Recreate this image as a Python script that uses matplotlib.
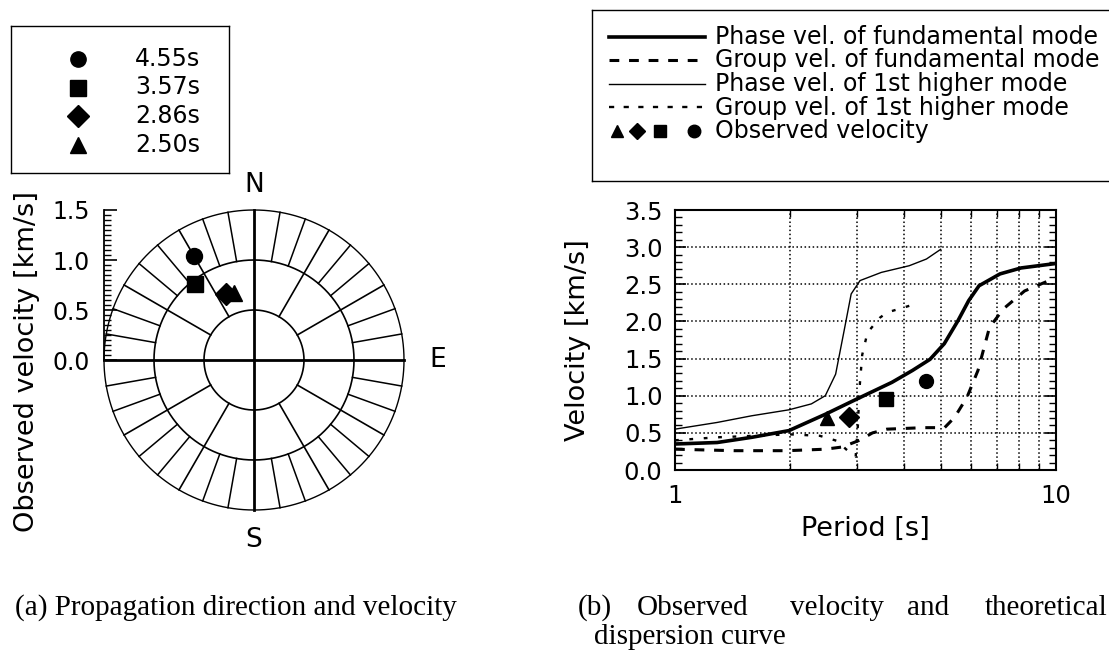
import numpy as np
import matplotlib
matplotlib.use("Agg")
import matplotlib.pyplot as plt
from matplotlib.ticker import FixedLocator, MultipleLocator, NullFormatter, NullLocator

W, H = 1109, 656

# observed velocities (same in both panels)
obs_labels = ['4.55s', '3.57s', '2.86s', '2.50s']
obs_period = [4.55, 3.57, 2.86, 2.50]
obs_velocity = [1.20, 0.96, 0.72, 0.70]
obs_azimuth = [330, 322, 337, 343]   # deg clockwise from N
obs_marker = ['o', 's', 'D', '^']

# theoretical dispersion curves
period_phase0 = [1.0, 1.29, 1.59, 1.99, 2.48, 3.0, 3.71, 4.2, 4.67, 5.09, 5.53, 5.9, 6.28, 7.13, 8.1, 10.0]
vel_phase0 = [0.35, 0.37, 0.44, 0.53, 0.75, 0.955, 1.18, 1.34, 1.49, 1.70, 2.01, 2.28, 2.48, 2.64, 2.72, 2.78]

period_group0 = [1.0, 1.43, 1.97, 2.48, 2.75, 3.05, 3.3, 3.6, 4.5, 5.1, 5.42, 5.84, 6.24, 6.69, 7.28, 8.27, 10.0]
vel_group0 = [0.28, 0.26, 0.26, 0.28, 0.31, 0.40, 0.50, 0.55, 0.57, 0.57, 0.71, 0.98, 1.34, 1.92, 2.17, 2.41, 2.59]

period_phase1 = [1.0, 1.29, 1.59, 1.99, 2.28, 2.48, 2.64, 2.78, 2.9, 3.06, 3.48, 4.12, 4.57, 4.98]
vel_phase1 = [0.55, 0.64, 0.73, 0.81, 0.89, 1.0, 1.29, 1.88, 2.37, 2.55, 2.66, 2.75, 2.84, 2.97]

period_group1 = [1.0, 1.29, 2.0, 2.4, 2.67, 2.81, 2.98, 3.02, 3.05, 3.1, 3.2, 3.45, 3.6, 4.12]
vel_group1 = [0.40, 0.44, 0.48, 0.46, 0.39, 0.28, 0.18, 0.60, 1.10, 1.55, 1.85, 2.05, 2.12, 2.21]

legend_right = ['Phase vel. of fundamental mode', 'Group vel. of fundamental mode',
                'Phase vel. of 1st higher mode', 'Group vel. of 1st higher mode',
                'Observed velocity']

rings = [0.5, 1.0, 1.5]

plt.rcParams['font.family'] = ['DejaVu Sans']
SERIF = 'Liberation Serif'


def px_axes(fig, x0, y0, x1, y1):
    # axes from pixel box (top-left origin)
    return fig.add_axes([x0 / W, 1 - y1 / H, (x1 - x0) / W, (y1 - y0) / H])


fig = plt.figure(figsize=(W / 100, H / 100), dpi=100)

# ---------------- (a) polar direction plot ----------------
ax = px_axes(fig, 104, 210, 404, 510)
ax.set_xlim(-1.5, 1.5)
ax.set_ylim(-1.5, 1.5)
for s in ['top', 'right', 'bottom']:
    ax.spines[s].set_visible(False)
ax.spines['left'].set_bounds(0, 1.5)
ax.spines['left'].set_linewidth(1.3)
ax.xaxis.set_major_locator(NullLocator())
ax.yaxis.set_major_locator(FixedLocator([0, 0.5, 1.0, 1.5]))
ax.yaxis.set_minor_locator(FixedLocator(np.arange(0, 1.51, 0.05)))
ax.set_yticklabels(['0.0', '0.5', '1.0', '1.5'])
ax.tick_params(axis='y', which='major', direction='in', length=9, width=1.2, labelsize=17, pad=10)
ax.tick_params(axis='y', which='minor', direction='in', length=5, width=1)

t = np.linspace(0, 2 * np.pi, 361)
for r in rings:
    ax.plot(r * np.cos(t), r * np.sin(t), color='black', lw=1.0 if r == 1.5 else 1.2, clip_on=False)

for az in range(0, 360, 10):
    a = np.radians(az)
    if az % 90 == 0:
        r0 = 0.0
        lw = 2.0
    elif az % 30 == 0:
        r0 = 0.5
        lw = 1.2
    else:
        r0 = 1.0
        lw = 1.1
    ax.plot([r0 * np.sin(a), 1.5 * np.sin(a)], [r0 * np.cos(a), 1.5 * np.cos(a)],
            color='black', lw=lw, clip_on=False)

for v, az, m in zip(obs_velocity, obs_azimuth, obs_marker):
    a = np.radians(az)
    ax.plot(v * np.sin(a), v * np.cos(a), marker=m, color='black', ms=11.5, ls='none', clip_on=False)

ax.text(0, 1.75, 'N', ha='center', va='center', fontsize=19)
ax.text(1.84, 0, 'E', ha='center', va='center', fontsize=19)
ax.text(0, -1.8, 'S', ha='center', va='center', fontsize=19)

fig.text(27 / W, 1 - 362 / H, 'Observed velocity [km/s]', rotation=90,
         ha='center', va='center', fontsize=19.5)

# legend box (a)
lg = px_axes(fig, 11, 26, 229, 173)
lg.set_xlim(0, 218)
lg.set_ylim(147, 0)
lg.set_xticks([])
lg.set_yticks([])
for s in lg.spines.values():
    s.set_linewidth(1.0)
for i, (lab, m) in enumerate(zip(obs_labels, obs_marker)):
    y = 33 + i * 28.5
    lg.plot(67, y, marker=m, color='black', ms=11, ls='none')
    lg.text(124, y, lab, va='center', ha='left', fontsize=17)

# ---------------- (b) dispersion curves ----------------
bx = px_axes(fig, 675, 210, 1056, 470)
bx.set_xscale('log')
bx.set_xlim(1, 10)
bx.set_ylim(0, 3.5)
bx.plot(period_phase0, vel_phase0, color='black', lw=2.6)
bx.plot(period_group0, vel_group0, color='black', lw=2.2, dashes=(3.2, 3.2))
bx.plot(period_phase1, vel_phase1, color='black', lw=1.0)
bx.plot(period_group1, vel_group1, color='black', lw=1.7, dashes=(1.6, 4.5))
for p, v, m in zip(obs_period, obs_velocity, obs_marker):
    bx.plot(p, v, marker=m, color='black', ms=10 if m != 's' else 9.5, ls='none')

bx.set_xticks([1, 10])
bx.set_xticklabels(['1', '10'])
bx.xaxis.set_minor_locator(FixedLocator([2, 3, 4, 5, 6, 7, 8, 9]))
bx.xaxis.set_minor_formatter(NullFormatter())
bx.set_yticks(np.arange(0, 3.51, 0.5))
bx.set_yticklabels(['0.0', '0.5', '1.0', '1.5', '2.0', '2.5', '3.0', '3.5'])
bx.yaxis.set_minor_locator(MultipleLocator(0.1))
bx.tick_params(which='major', direction='in', length=8, width=1.2, labelsize=17.5,
               top=True, right=True)
bx.tick_params(which='minor', direction='in', length=5, width=1, top=True, right=True)
bx.tick_params(axis='y', pad=9)
bx.tick_params(axis='x', pad=10)
bx.grid(True, which='both', axis='x', color='black', ls=':', lw=1.1)
bx.grid(True, which='major', axis='y', color='black', ls=':', lw=1.1)
for s in bx.spines.values():
    s.set_linewidth(1.5)
bx.set_xlabel('Period [s]', fontsize=19.5, labelpad=6)
fig.text(578 / W, 1 - 340 / H, 'Velocity [km/s]', rotation=90,
         ha='center', va='center', fontsize=19.5)

# legend box (b), runs off the right edge
rg = px_axes(fig, 592, 10, 1125, 181)
rg.set_xlim(0, 533)
rg.set_ylim(171, 0)
rg.set_xticks([])
rg.set_yticks([])
for s in rg.spines.values():
    s.set_linewidth(1.0)
styles = [dict(lw=2.6), dict(lw=2.2, dashes=(3.2, 3.2)), dict(lw=1.0), dict(lw=1.7, dashes=(2.2, 4.0))]
for i, st in enumerate(styles):
    y = 27 + i * 23.5
    rg.plot([17, 113], [y, y], color='black', **st)
for i, lab in enumerate(legend_right):
    rg.text(123, 27 + i * 23.5, lab, va='center', ha='left', fontsize=17)
for x, m in zip([25, 45, 68, 102], ['^', 'D', 's', 'o']):
    rg.plot(x, 27 + 4 * 23.5, marker=m, color='black', ms=9 if m != 'D' else 8.5, ls='none')

# captions
fig.text(15 / W, 1 - 615 / H, '(a) Propagation direction and velocity',
         family=SERIF, fontsize=21, va='baseline')
for x, word in zip([578, 637, 790, 907, 985], ['(b)', 'Observed', 'velocity', 'and', 'theoretical']):
    fig.text(x / W, 1 - 615 / H, word, family=SERIF, fontsize=21, va='baseline')
fig.text(594 / W, 1 - 644 / H, 'dispersion curve', family=SERIF, fontsize=21, va='baseline')

fig.savefig('out.png', dpi=100)
